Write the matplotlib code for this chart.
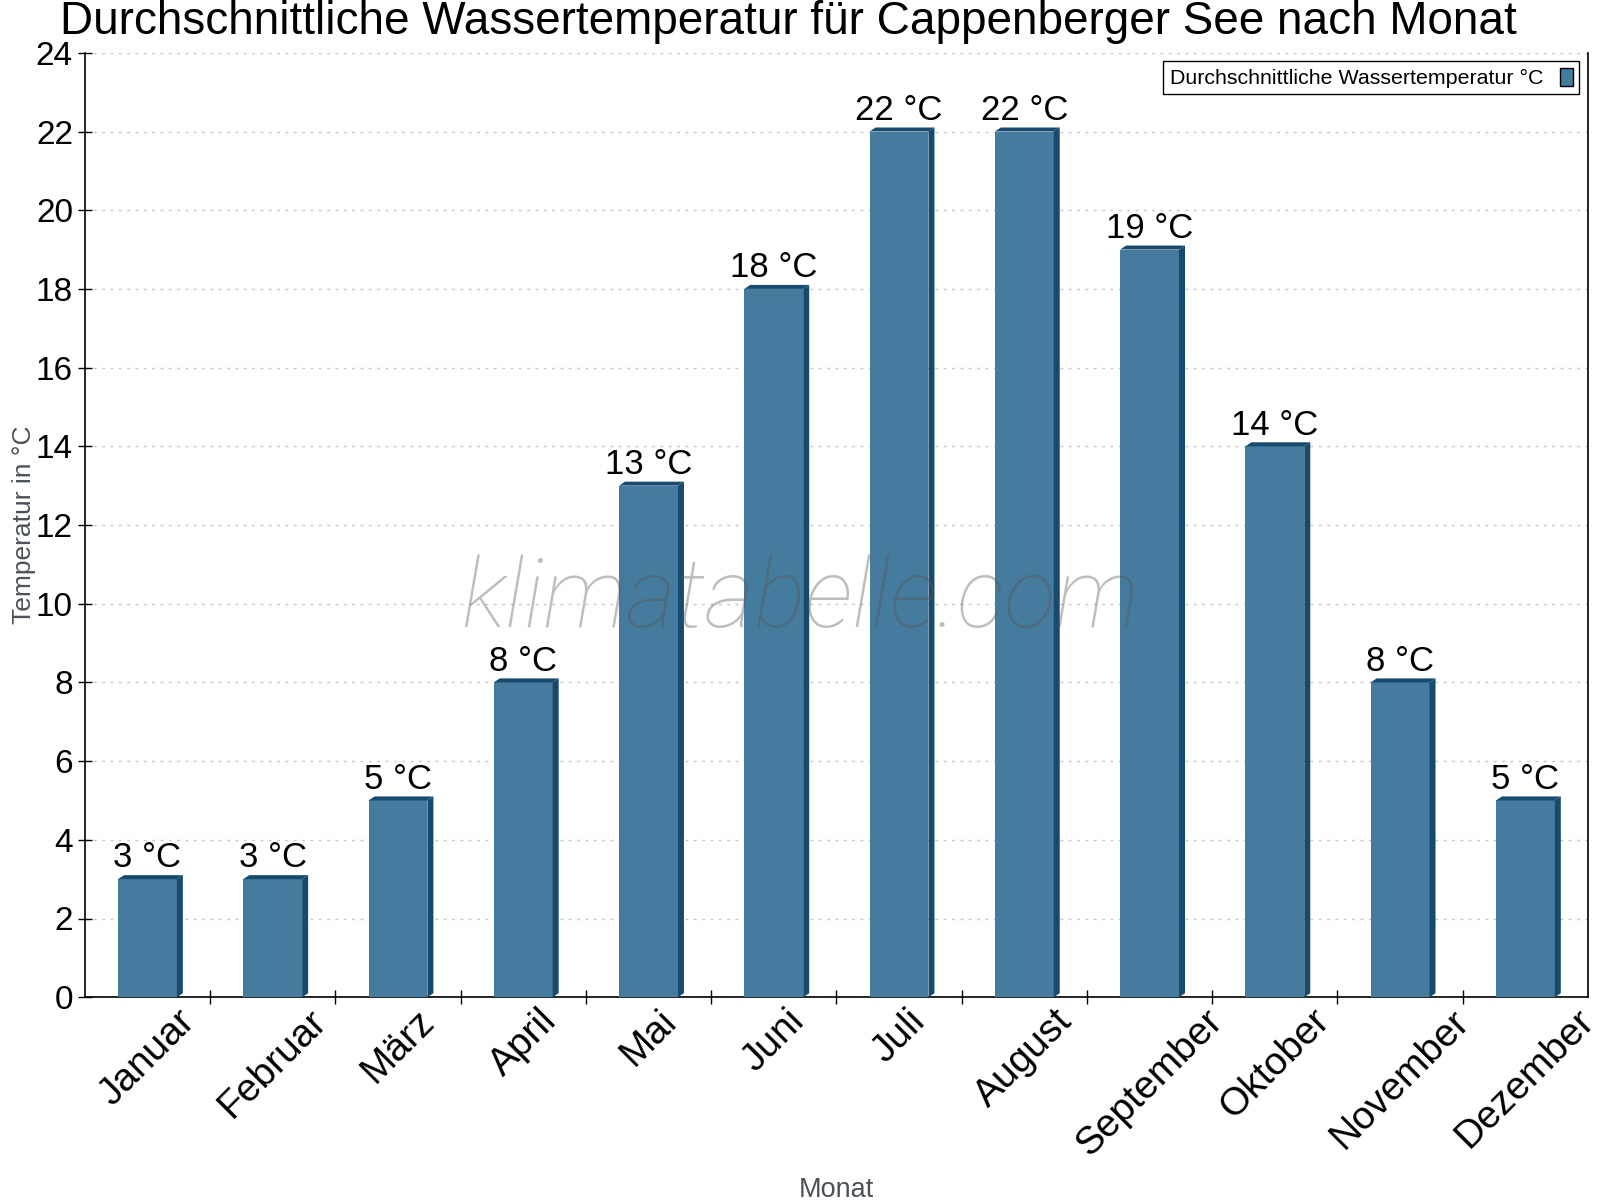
import matplotlib
matplotlib.use('Agg')
import matplotlib.pyplot as plt
from matplotlib.patches import Polygon
import numpy as np

months = ['Januar', 'Februar', 'März', 'April', 'Mai', 'Juni', 'Juli',
          'August', 'September', 'Oktober', 'November', 'Dezember']
water_temp = [3, 3, 5, 8, 13, 18, 22, 22, 19, 14, 8, 5]
y_ticks = [0, 2, 4, 6, 8, 10, 12, 14, 16, 18, 20, 22, 24]

front_color = '#457b9d'
dark_color = '#174a6d'
grey_text = '#4b5259'

plt.rcParams['font.family'] = ['Liberation Sans', 'DejaVu Sans']

fig = plt.figure(figsize=(16, 12), dpi=100)
ax = fig.add_axes([0.053, 0.169, 0.9395, 0.787])

x = np.arange(len(months))
bar_w = 0.47
ax.bar(x, water_temp, width=bar_w, color=front_color, zorder=3,
       label='Durchschnittliche Wassertemperatur °C')

# fake 3d depth: a few pixels right and up, converted to data units
ax.set_xlim(-0.5, len(months) - 0.5)
ax.set_ylim(0, 24)
ax_w_px = 0.9395 * 1600
ax_h_px = 0.787 * 1200
dx = 6 * (len(months)) / ax_w_px
dy = 4 * 24 / ax_h_px
for xi, h in zip(x, water_temp):
    xl, xr = xi - bar_w / 2, xi + bar_w / 2
    side = Polygon([(xr, 0), (xr + dx, dy), (xr + dx, h + dy), (xr, h)],
                   closed=True, facecolor=dark_color, edgecolor='none', zorder=3)
    top = Polygon([(xl, h), (xl + dx, h + dy), (xr + dx, h + dy), (xr, h)],
                  closed=True, facecolor=dark_color, edgecolor='none', zorder=3)
    ax.add_patch(side)
    ax.add_patch(top)
    ax.text(xi, h + 0.12, f'{h} °C', ha='center', va='bottom',
            fontsize=25, color='black', zorder=5)

ax.set_yticks(y_ticks)
ax.tick_params(axis='y', labelsize=24, direction='inout', length=10, width=1)
ax.set_xticks(x)
ax.set_xticklabels(months, rotation=45, ha='center', va='top', fontsize=28)
ax.tick_params(axis='x', which='major', length=0, pad=4)
ax.set_xticks(np.arange(0.5, len(months) - 0.5), minor=True)
ax.tick_params(axis='x', which='minor', direction='inout', length=10, width=1)

ax.grid(axis='y', linestyle=(0, (2, 4)), color='#c8c8c8', linewidth=1, zorder=0)
ax.spines['top'].set_visible(False)
for s in ['left', 'bottom', 'right']:
    ax.spines[s].set_linewidth(1.2)

ax.set_ylabel('Temperatur in °C', fontsize=19, color=grey_text, labelpad=0)
ax.set_xlabel('Monat', fontsize=19.5, color=grey_text)
ax.xaxis.set_label_coords(0.5, -0.19)

fig.suptitle('Durchschnittliche Wassertemperatur für Cappenberger See nach Monat',
             fontsize=33, x=0.493, y=1.0, va='top')

leg = ax.legend(loc='upper right', fontsize=15.4, markerfirst=False,
                handlelength=0.6, handleheight=0.9, fancybox=False,
                framealpha=1, edgecolor='black', borderaxespad=0.4,
                borderpad=0.3)
leg.get_frame().set_linewidth(1)
leg.legend_handles[0].set_edgecolor('black')

fig.text(0.5, 0.5, 'klimatabelle.com', ha='center',
         va='center', fontsize=69, family='Roboto', fontweight='light',
         style='italic', color='#555555', alpha=0.38, zorder=6)

fig.savefig('out.png', dpi=100)
